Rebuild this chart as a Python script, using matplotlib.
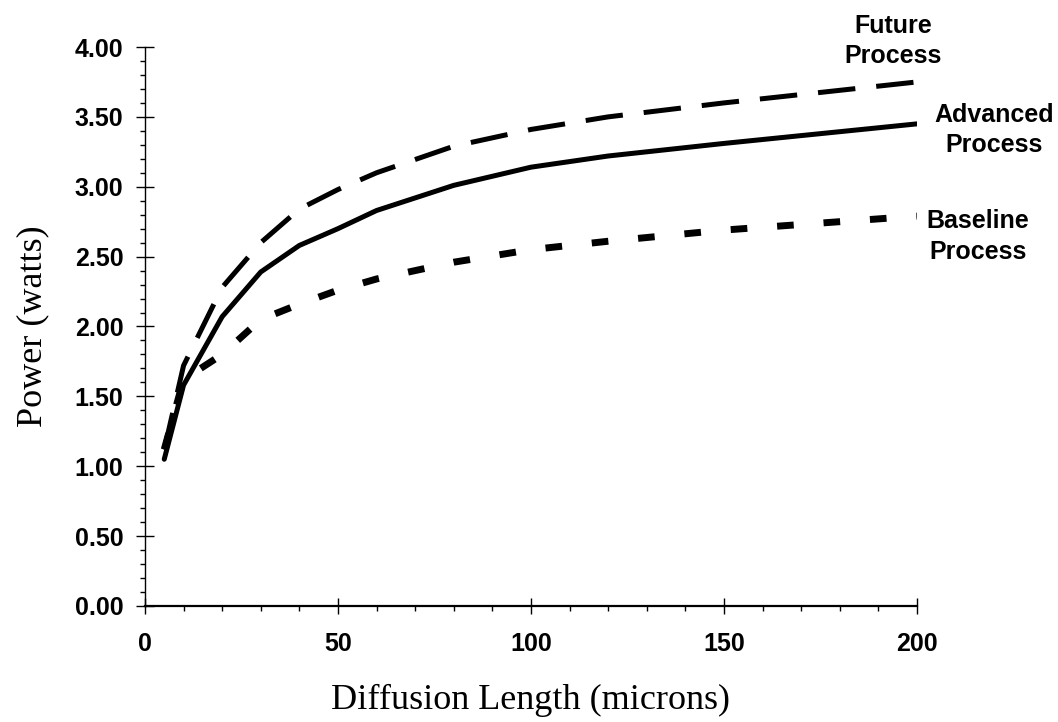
import numpy as np
import matplotlib
matplotlib.use('Agg')
import matplotlib.pyplot as plt
from matplotlib.ticker import MultipleLocator

# values
diff_len = [5, 10, 20, 30, 40, 50, 60, 80, 100, 120, 150, 200]
future = [1.12, 1.72, 2.28, 2.60, 2.84, 2.98, 3.10, 3.29, 3.41, 3.50, 3.60, 3.75]
advanced = [1.05, 1.58, 2.07, 2.39, 2.58, 2.70, 2.83, 3.01, 3.14, 3.22, 3.31, 3.45]
baseline = [1.12, 1.62, 1.80, 2.05, 2.16, 2.26, 2.34, 2.46, 2.55, 2.61, 2.69, 2.79]

x_ticks = [0, 50, 100, 150, 200]
y_ticks = np.arange(0, 4.01, 0.5)

sans = 'Liberation Sans'
serif = 'Liberation Serif'

fig = plt.figure(figsize=(10.58, 7.22), dpi=100)
ax = fig.add_axes([0.137, 0.1607, 0.7297, 0.7742])

ax.plot(diff_len, future, color='black', lw=3.6, dashes=(7.5, 4.2), solid_capstyle='butt')
ax.plot(diff_len, advanced, color='black', lw=3.6, solid_capstyle='round', solid_joinstyle='round')
ax.plot(diff_len, baseline, color='black', lw=5.0, dashes=(2.4, 4.3), dash_capstyle='butt')

ax.set_xlim(0, 200)
ax.set_ylim(0, 4.0)
ax.set_xticks(x_ticks)
ax.set_yticks(y_ticks)
ax.set_yticklabels(['%.2f' % v for v in y_ticks])
ax.xaxis.set_minor_locator(MultipleLocator(10))
ax.yaxis.set_minor_locator(MultipleLocator(0.1))

for s in ['top', 'right']:
    ax.spines[s].set_visible(False)
ax.spines['bottom'].set_linewidth(1.6)
ax.spines['left'].set_linewidth(1.0)

ax.tick_params(axis='y', which='major', direction='inout', length=13, width=1.0, pad=9)
ax.tick_params(axis='y', which='minor', direction='out', length=3.6, width=1.0)
ax.tick_params(axis='x', which='major', direction='inout', length=12, width=1.0, pad=13)
ax.tick_params(axis='x', which='minor', direction='out', length=3.6, width=1.0)

for lab in ax.get_xticklabels() + ax.get_yticklabels():
    lab.set_fontfamily(sans)
    lab.set_fontsize(18)
    lab.set_fontweight('bold')

ax.set_xlabel('Diffusion Length (microns)', fontfamily=serif, fontsize=26, labelpad=20)
ax.set_ylabel('Power (watts)', fontfamily=serif, fontsize=26, labelpad=18)

# curve labels on the right
fig.text(0.844, 0.943, 'Future\nProcess', ha='center', va='center',
         fontfamily=sans, fontsize=18, fontweight='bold', linespacing=1.35)
fig.text(0.9395, 0.820, 'Advanced\nProcess', ha='center', va='center',
         fontfamily=sans, fontsize=18, fontweight='bold', linespacing=1.35)
fig.text(0.924, 0.6724, 'Baseline\nProcess', ha='center', va='center',
         fontfamily=sans, fontsize=18, fontweight='bold', linespacing=1.35)

fig.savefig('out.png', dpi=100)
